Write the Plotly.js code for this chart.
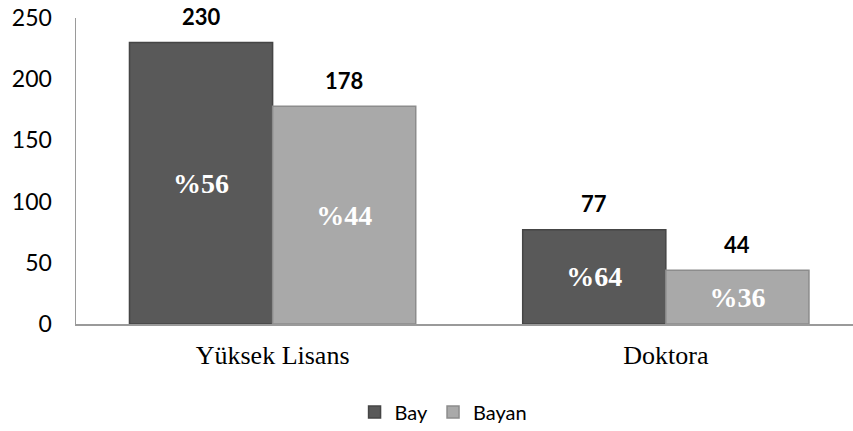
<!DOCTYPE html>
<html>
<head>
<meta charset="utf-8">
<script src="https://cdn.plot.ly/plotly-3.0.1.min.js"></script>
<style>html,body{margin:0;padding:0;background:#fff;}#chart{width:853px;height:431px;}</style>
</head>
<body>
<div id="chart"></div>
<script>
// ---- data ----
const categories = ["Yüksek Lisans", "Doktora"];
const seriesNames = ["Bay", "Bayan"];
const bayValues = [230, 77];
const bayanValues = [178, 44];
const yTicks = [0, 50, 100, 150, 200, 250];

// ---- style ----
const colors = ["#595959", "#a9a9a9"];
const lineColors = ["#454545", "#8c8c8c"];
const bargap = 0.272;
const seriesValues = [bayValues, bayanValues];

const totals = categories.map((c, i) => bayValues[i] + bayanValues[i]);

const traces = seriesValues.map((vals, s) => ({
  type: "bar",
  name: seriesNames[s],
  x: categories,
  y: vals,
  marker: { color: colors[s], line: { color: lineColors[s], width: 1.5 } },
  text: vals.map((v, i) => "%" + Math.round(100 * v / totals[i])),
  texttemplate: "%{text}",
  textposition: "inside",
  insidetextanchor: "middle",
  textangle: 0,
  constraintext: "none",
  insidetextfont: { family: "Liberation Serif", size: 28, color: "#ffffff", weight: "bold" },
  hoverinfo: "skip"
}));

// value labels above bars
const annotations = [];
const groupWidth = 1 - bargap;
seriesValues.forEach((vals, s) => {
  vals.forEach((v, i) => {
    annotations.push({
      x: i + (s - 0.5) * groupWidth / 2,
      y: v,
      xref: "x", yref: "y",
      text: String(v),
      showarrow: false,
      yanchor: "middle",
      yshift: 26,
      font: { family: "Lato", size: 22, color: "#000000", weight: "bold" }
    });
  });
});

const layout = {
  width: 853, height: 431,
  margin: { l: 76, r: 0, t: 18, b: 107, pad: 0 },
  paper_bgcolor: "#ffffff", plot_bgcolor: "#ffffff",
  barmode: "group",
  bargap: bargap,
  bargroupgap: 0,
  showlegend: true,
  legend: {
    orientation: "h",
    xref: "container", yref: "container",
    x: 0.52, xanchor: "center",
    y: 0.044, yanchor: "middle",
    font: { family: "Lato", size: 20, color: "#000000" },
    itemwidth: 30,
    traceorder: "normal"
  },
  xaxis: {
    type: "category",
    range: [-0.5, 1.476],
    showline: true, linecolor: "#9a9a9a", linewidth: 1.5,
    showgrid: false, zeroline: false,
    ticks: "",
    ticklabelstandoff: 7,
    tickfont: { family: "Liberation Serif", size: 26, color: "#000000" },
    fixedrange: true
  },
  yaxis: {
    range: [0, 250],
    tickvals: yTicks,
    ticktext: yTicks.map(String),
    showline: true, linecolor: "#9a9a9a", linewidth: 1.5,
    showgrid: false, zeroline: false,
    ticks: "",
    ticklabelstandoff: 18,
    tickfont: { family: "Lato", size: 23, color: "#000000" },
    fixedrange: true
  },
  annotations: annotations,
  font: { family: "Lato", color: "#000000" }
};

Plotly.newPlot("chart", traces, layout, { displayModeBar: false, staticPlot: true });
</script>
</body>
</html>
